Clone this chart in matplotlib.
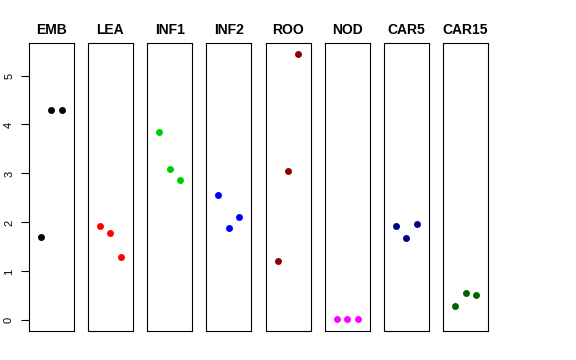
import matplotlib
matplotlib.use("Agg")
import matplotlib.pyplot as plt

categories = ["EMB", "LEA", "INF1", "INF2", "ROO", "NOD", "CAR5", "CAR15"]
values = {
    "EMB":   [1.70, 4.29, 4.29],
    "LEA":   [1.93, 1.78, 1.29],
    "INF1":  [3.84, 3.10, 2.87],
    "INF2":  [2.55, 1.89, 2.11],
    "ROO":   [1.21, 3.05, 5.44],
    "NOD":   [0.02, 0.02, 0.02],
    "CAR5":  [1.93, 1.69, 1.96],
    "CAR15": [0.30, 0.56, 0.51],
}
colors = ["black", "red", "#00CD00", "blue", "#8B0000", "magenta", "#00008B", "#006400"]
replicates = [1, 2, 3]
yticks = [0, 1, 2, 3, 4, 5]

plt.rcParams['font.family'] = ['Liberation Sans', 'DejaVu Sans']

W, H = 576, 360
fig = plt.figure(figsize=(W / 100, H / 100), dpi=100)

ymax = max(max(v) for v in values.values())
ymin = 0.0
pad = (ymax - ymin) * 0.04
ylim = (ymin - pad, ymax + pad)
xlim = (0 - 0.16, 4 + 0.16)

left0, pitch, pw = 28.7, 59.2, 45.0
top, bottom = 43.3, 331.0

for i, (cat, col) in enumerate(zip(categories, colors)):
    l = left0 + i * pitch
    ax = fig.add_axes([l / W, 1 - bottom / H, pw / W, (bottom - top) / H])
    ax.plot(replicates, values[cat], 'o', color=col, markersize=5, markeredgewidth=0)
    ax.set_xlim(*xlim)
    ax.set_ylim(*ylim)
    ax.set_xticks([])
    for s in ax.spines.values():
        s.set_linewidth(0.8)
        s.set_color("black")
    if i == 0:
        ax.set_yticks(yticks)
        ax.set_yticklabels([str(t) for t in yticks], rotation=90, va='center', fontsize=8)
        ax.tick_params(axis='y', length=5.5, width=0.8, pad=5)
    else:
        ax.set_yticks([])
    ax.set_title(cat, fontsize=10, fontweight='bold', pad=7)

fig.savefig("out.png", dpi=100)
